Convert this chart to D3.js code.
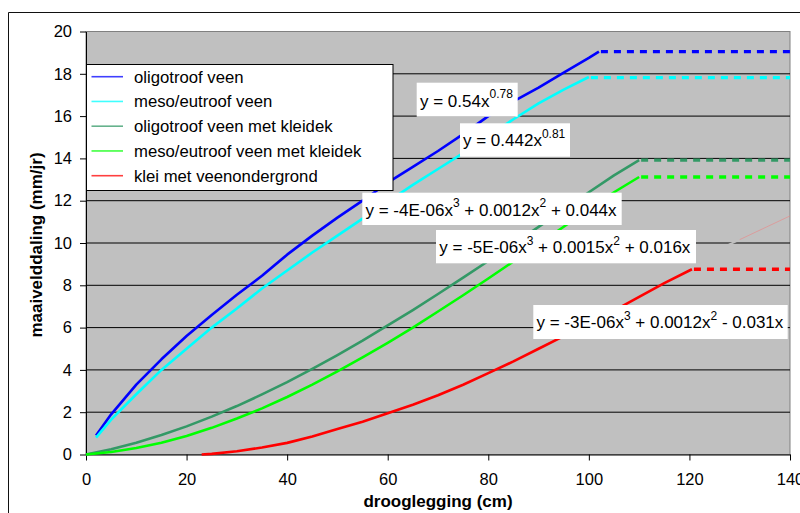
<!DOCTYPE html>
<html><head><meta charset="utf-8">
<script src="https://cdn.jsdelivr.net/npm/d3@7"></script>
<style>body{margin:0;background:#fff;} svg{display:block;font-family:"Liberation Sans",Arial,sans-serif;}</style>
</head><body><svg id="c" width="800" height="513"></svg>
<script>
// ---------- data ----------
const xTicks = [0, 20, 40, 60, 80, 100, 120, 140];
const yTicks = [0, 2, 4, 6, 8, 10, 12, 14, 16, 18, 20];
const seriesNames = ["oligotroof veen", "meso/eutroof veen", "oligotroof veen met kleidek", "meso/eutroof veen met kleidek", "klei met veenondergrond"];
const seriesColors = ["#0000FF", "#00FFFF", "#339966", "#00FF00", "#FF0000"];

const xOligoVeen = [2, 5, 10, 15, 20, 25, 30, 35, 40, 45, 50, 55, 60, 65, 70, 75, 80, 85, 90, 95, 100, 102];
const yOligoVeen = [0.9, 1.9, 3.3, 4.5, 5.6, 6.6, 7.55, 8.45, 9.45, 10.35, 11.2, 12.0, 12.85, 13.6, 14.35, 15.15, 16.0, 16.7, 17.35, 18.05, 18.75, 19.05];

const xMesoVeen = [2, 5, 10, 15, 20, 25, 30, 35, 40, 45, 50, 55, 60, 65, 70, 75, 80, 85, 90, 95, 100];
const yMesoVeen = [0.8, 1.65, 2.85, 4.0, 5.0, 6.0, 6.9, 7.85, 8.7, 9.55, 10.35, 11.15, 11.95, 12.75, 13.5, 14.25, 15.05, 15.85, 16.6, 17.25, 17.85];

const xOligoKlei = [0, 5, 10, 15, 20, 25, 30, 35, 40, 45, 50, 55, 60, 65, 70, 75, 80, 85, 90, 95, 100, 105, 110];
const yOligoKlei = [0, 0.25, 0.56, 0.92, 1.33, 1.79, 2.29, 2.84, 3.42, 4.05, 4.7, 5.38, 6.1, 6.83, 7.59, 8.36, 9.15, 9.95, 10.76, 11.58, 12.4, 13.2, 13.92];

const xMesoKlei = [0, 5, 10, 15, 20, 25, 30, 35, 40, 45, 50, 55, 60, 65, 70, 75, 80, 85, 90, 95, 100, 105, 110];
const yMesoKlei = [0, 0.12, 0.31, 0.56, 0.88, 1.26, 1.7, 2.18, 2.72, 3.3, 3.93, 4.59, 5.28, 6.0, 6.76, 7.53, 8.32, 9.13, 9.95, 10.77, 11.6, 12.4, 13.12];

const xKlei = [23, 25, 30, 35, 40, 45, 50, 55, 60, 65, 70, 75, 80, 85, 90, 95, 100, 105, 110, 115, 120.5];
const yKlei = [0, 0.03, 0.15, 0.33, 0.55, 0.85, 1.2, 1.55, 1.95, 2.35, 2.8, 3.3, 3.85, 4.4, 5.0, 5.6, 6.2, 6.8, 7.45, 8.1, 8.76];

const plateauStart = [102, 100, 110, 110, 120.5];
const plateauLevel = [19.05, 17.82, 13.92, 13.12, 8.76];
const plateauEnd = 140;

const redTrendX = [127, 130, 140];
const redTrendY = [9.83, 10.16, 11.28];

const trendLabels = [
  [["y = 0.54x", false], ["0.78", true]],
  [["y = 0.442x", false], ["0.81", true]],
  [["y = -4E-06x", false], ["3", true], [" + 0.0012x", false], ["2", true], [" + 0.044x", false]],
  [["y = -5E-06x", false], ["3", true], [" + 0.0015x", false], ["2", true], [" + 0.016x", false]],
  [["y = -3E-06x", false], ["3", true], [" + 0.0012x", false], ["2", true], [" - 0.031x", false]]
];

const xTitle = "drooglegging (cm)";
const yTitle = "maaivelddaling (mm/jr)";

// ---------- layout ----------
const seriesX = [xOligoVeen, xMesoVeen, xOligoKlei, xMesoKlei, xKlei];
const seriesY = [yOligoVeen, yMesoVeen, yOligoKlei, yMesoKlei, yKlei];
const P = {left: 86, right: 790, top: 31.5, bottom: 454.5};
const labelBoxes = [
  {x: 416.7, y: 82.7, w: 101, h: 34, tx: 420, ty: 106.5},
  {x: 460, y: 123.3, w: 110, h: 33.4, tx: 463, ty: 146},
  {x: 362.3, y: 192.7, w: 259.4, h: 32.3, tx: 365.5, ty: 215.5},
  {x: 436, y: 230, w: 260, h: 33.3, tx: 439.3, ty: 253},
  {x: 533.3, y: 305, w: 254.4, h: 34, tx: 536.5, ty: 328}
];

const svg = d3.select("#c");
const x = d3.scaleLinear().domain([0, 140]).range([P.left, P.right]);
const y = d3.scaleLinear().domain([0, 20]).range([P.bottom, P.top]);

// outer chart frame
svg.append("path").attr("d", "M8.5,513 L8.5,12.5 L800,12.5")
  .attr("fill", "none").attr("stroke", "#111").attr("stroke-width", 1);

// plot area
svg.append("rect").attr("x", P.left).attr("y", P.top)
  .attr("width", P.right - P.left).attr("height", P.bottom - P.top)
  .attr("fill", "#C0C0C0").attr("stroke", "#808080").attr("stroke-width", 1);

// gridlines
svg.append("g").selectAll("line").data(yTicks.filter(d => d > 0 && d < 20)).join("line")
  .attr("x1", P.left).attr("x2", P.right)
  .attr("y1", d => y(d)).attr("y2", d => y(d))
  .attr("stroke", "#000").attr("stroke-width", 1);

// axes
const fs = 16.5;
const yAxis = svg.append("g").attr("transform", `translate(${P.left},0)`)
  .call(d3.axisLeft(y).tickValues(yTicks).tickSize(6).tickSizeOuter(0).tickPadding(8).tickFormat(d3.format("d")));
const xAxis = svg.append("g").attr("transform", `translate(0,${P.bottom})`)
  .call(d3.axisBottom(x).tickValues(xTicks).tickSize(6).tickSizeOuter(0).tickPadding(12.5).tickFormat(d3.format("d")));
[yAxis, xAxis].forEach(a => {
  a.selectAll("text").attr("font-size", fs).attr("fill", "#000").attr("font-family", "Liberation Sans, Arial, sans-serif");
  a.selectAll("line, path").attr("stroke", "#000");
});

// red trendline (faint)
const line = d3.line().x(d => x(d[0])).y(d => y(d[1]));
svg.append("path").datum([[redTrendX[0], redTrendY[0]], [redTrendX[1], redTrendY[1]]])
  .attr("d", line).attr("fill", "none").attr("stroke", "#C0C0C0").attr("stroke-width", 2);
svg.append("path").datum([[redTrendX[1], redTrendY[1]], [redTrendX[2], redTrendY[2]]])
  .attr("d", line).attr("fill", "none").attr("stroke", "#F08080").attr("stroke-width", 1).attr("opacity", 0.55);

// series lines
seriesX.forEach((xs, i) => {
  const pts = xs.map((v, j) => [v, seriesY[i][j]]);
  svg.append("path").datum(pts).attr("d", line)
    .attr("fill", "none").attr("stroke", seriesColors[i]).attr("stroke-width", 2.6)
    .attr("stroke-linejoin", "round");
  svg.append("path").datum([[plateauStart[i], plateauLevel[i]], [plateauEnd, plateauLevel[i]]]).attr("d", line)
    .attr("fill", "none").attr("stroke", seriesColors[i]).attr("stroke-width", 3.4)
    .attr("stroke-dasharray", "7,6").attr("stroke-dashoffset", -2);
});

// legend
const lg = svg.append("g");
lg.append("rect").attr("x", 86.5).attr("y", 64.5).attr("width", 306.5).attr("height", 126)
  .attr("fill", "#fff").attr("stroke", "#000").attr("stroke-width", 1);
seriesNames.forEach((n, i) => {
  const ry = 76.7 + i * 24.75;
  lg.append("line").attr("x1", 91.5).attr("x2", 123).attr("y1", ry).attr("y2", ry)
    .attr("stroke", seriesColors[i]).attr("stroke-width", 1.6).attr("opacity", 0.75);
  lg.append("text").attr("x", 134).attr("y", ry + 6).attr("font-size", 16.7).attr("fill", "#000").text(n);
});

// trendline equation labels
trendLabels.forEach((parts, i) => {
  const b = labelBoxes[i];
  svg.append("rect").attr("x", b.x).attr("y", b.y).attr("width", b.w).attr("height", b.h).attr("fill", "#fff");
  const t = svg.append("text").attr("x", b.tx).attr("y", b.ty).attr("font-size", 17).attr("fill", "#000");
  let off = 0;
  parts.forEach(([s, sup]) => {
    const target = sup ? -8.5 : 0;
    t.append("tspan").attr("font-size", sup ? 12 : 17).attr("dy", target - off).text(s);
    off = target;
  });
});

// axis titles
svg.append("text").attr("x", 438).attr("y", 506.5).attr("text-anchor", "middle")
  .attr("font-size", 17).attr("font-weight", "bold").attr("fill", "#000").text(xTitle);
svg.append("text").attr("transform", "translate(42,245) rotate(-90)").attr("text-anchor", "middle")
  .attr("font-size", 17).attr("font-weight", "bold").attr("fill", "#000").text(yTitle);
</script>
</body></html>
